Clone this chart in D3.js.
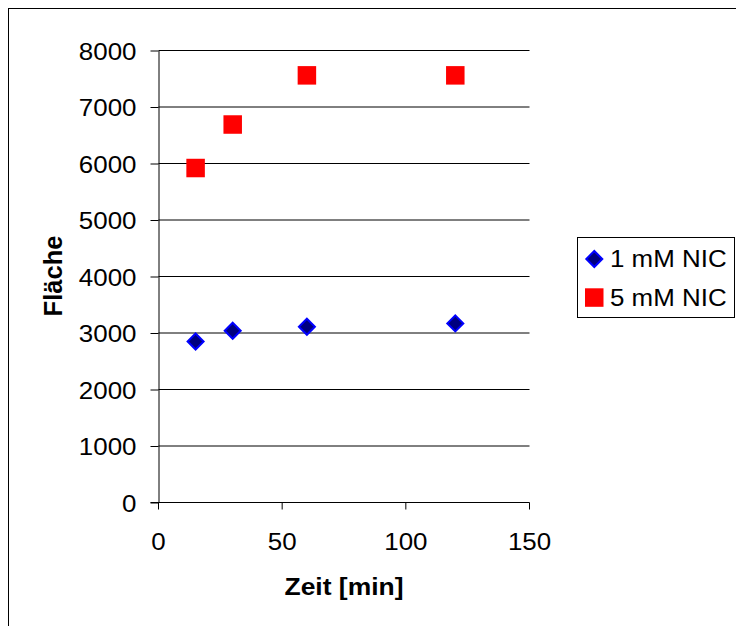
<!DOCTYPE html>
<html>
<head>
<meta charset="utf-8">
<script src="https://cdn.jsdelivr.net/npm/d3@7"></script>
<style>
  html, body { margin: 0; padding: 0; background: #fff; }
  svg { display: block; }
  text { font-family: "Liberation Sans", Arial, sans-serif; fill: #000; }
</style>
</head>
<body>
<svg id="chart" width="736" height="626"></svg>
<script>
// ---- Data ----
const times = [15, 30, 60, 120];
const nic1 = [2850, 3040, 3110, 3170];
const nic5 = [5920, 6690, 7560, 7560];
const seriesNames = ["1 mM NIC", "5 mM NIC"];
const xTicks = [0, 50, 100, 150];
const yTicks = [0, 1000, 2000, 3000, 4000, 5000, 6000, 7000, 8000];
const xTitle = "Zeit [min]";
const yTitle = "Fläche";

const svg = d3.select("#chart");
const SX = 1.08; // slight horizontal stretch of the original text

// outer border (only left/top visible)
svg.append("rect").attr("x", 8.5).attr("y", 8.5).attr("width", 900).attr("height", 900)
  .attr("fill", "none").attr("stroke", "#000").attr("stroke-width", 1);

const x = d3.scaleLinear().domain([0, 150]).range([158.5, 529.5]);
const y = d3.scaleLinear().domain([0, 8000]).range([502.5, 50.5]);

// gridlines
svg.append("g").selectAll("line").data(yTicks.filter(d => d > 0)).join("line")
  .attr("x1", x(0)).attr("x2", x(150))
  .attr("y1", d => y(d)).attr("y2", d => y(d))
  .attr("stroke", "#000").attr("stroke-width", 1);

// y axis
const yAxis = svg.append("g").attr("transform", `translate(${x(0)},0)`)
  .call(d3.axisLeft(y).tickValues(yTicks).tickSize(8).tickPadding(14).tickSizeOuter(0).tickFormat(d3.format("d")));
yAxis.select(".domain").attr("stroke", "#000");
yAxis.selectAll(".tick line").attr("stroke", "#000");
yAxis.selectAll(".tick text")
  .attr("font-size", 24).attr("x", -22 / SX).attr("dy", "0.36em")
  .attr("transform", `scale(${SX},1)`)
  .style("font-family", "'Liberation Sans', Arial, sans-serif");

// x axis
const xAxis = svg.append("g").attr("transform", `translate(0,${y(0)})`)
  .call(d3.axisBottom(x).tickValues(xTicks).tickSize(7).tickSizeOuter(0).tickFormat(d3.format("d")));
xAxis.select(".domain").attr("stroke", "#000").attr("d", `M${x(0) - 8},0H${x(150)}`);
xAxis.selectAll(".tick line").attr("stroke", "#000");
xAxis.selectAll(".tick text")
  .attr("font-size", 24).attr("y", 47.5).attr("dy", 0)
  .attr("transform", `scale(${SX},1)`)
  .style("font-family", "'Liberation Sans', Arial, sans-serif");
// keep the scaled labels centered on their ticks
xAxis.selectAll(".tick").each(function(d) {
  const t = d3.select(this);
  t.attr("transform", `translate(${x(d)},0)`);
});

// axis titles
svg.append("text").attr("x", 0).attr("y", 0)
  .attr("transform", `translate(${(x(0) + x(150)) / 2},595) scale(${SX},1)`)
  .attr("text-anchor", "middle").attr("font-size", 24.5).attr("font-weight", "bold")
  .text(xTitle);
svg.append("text")
  .attr("transform", `translate(61.5,276) rotate(-90)`)
  .attr("text-anchor", "middle").attr("font-size", 25.5).attr("font-weight", "bold")
  .text(yTitle);

// markers
const diamond = (cx, cy, r) => `M${cx},${cy - r}L${cx + r},${cy}L${cx},${cy + r}L${cx - r},${cy}Z`;
const sq = 18.5;

svg.append("g").selectAll("path").data(times.map((t, i) => [t, nic1[i]])).join("path")
  .attr("d", d => diamond(x(d[0]), y(d[1]), 8))
  .attr("fill", "#000080").attr("stroke", "#0000FF").attr("stroke-width", 2);

svg.append("g").selectAll("rect").data(times.map((t, i) => [t, nic5[i]])).join("rect")
  .attr("x", d => x(d[0]) - sq / 2).attr("y", d => y(d[1]) - sq / 2)
  .attr("width", sq).attr("height", sq)
  .attr("fill", "#FF0000");

// legend
const lg = svg.append("g");
lg.append("rect").attr("x", 577.5).attr("y", 237.5).attr("width", 157).attr("height", 80)
  .attr("fill", "#fff").attr("stroke", "#000").attr("stroke-width", 1);
lg.append("path").attr("d", diamond(594.3, 259, 8))
  .attr("fill", "#000080").attr("stroke", "#0000FF").attr("stroke-width", 2);
lg.append("rect").attr("x", 585).attr("y", 288.3).attr("width", sq).attr("height", sq)
  .attr("fill", "#FF0000");
seriesNames.forEach((n, i) => {
  lg.append("text").attr("transform", `translate(610,${267 + i * 38.8}) scale(${SX},1)`)
    .attr("font-size", 24).text(n);
});
</script>
</body>
</html>
